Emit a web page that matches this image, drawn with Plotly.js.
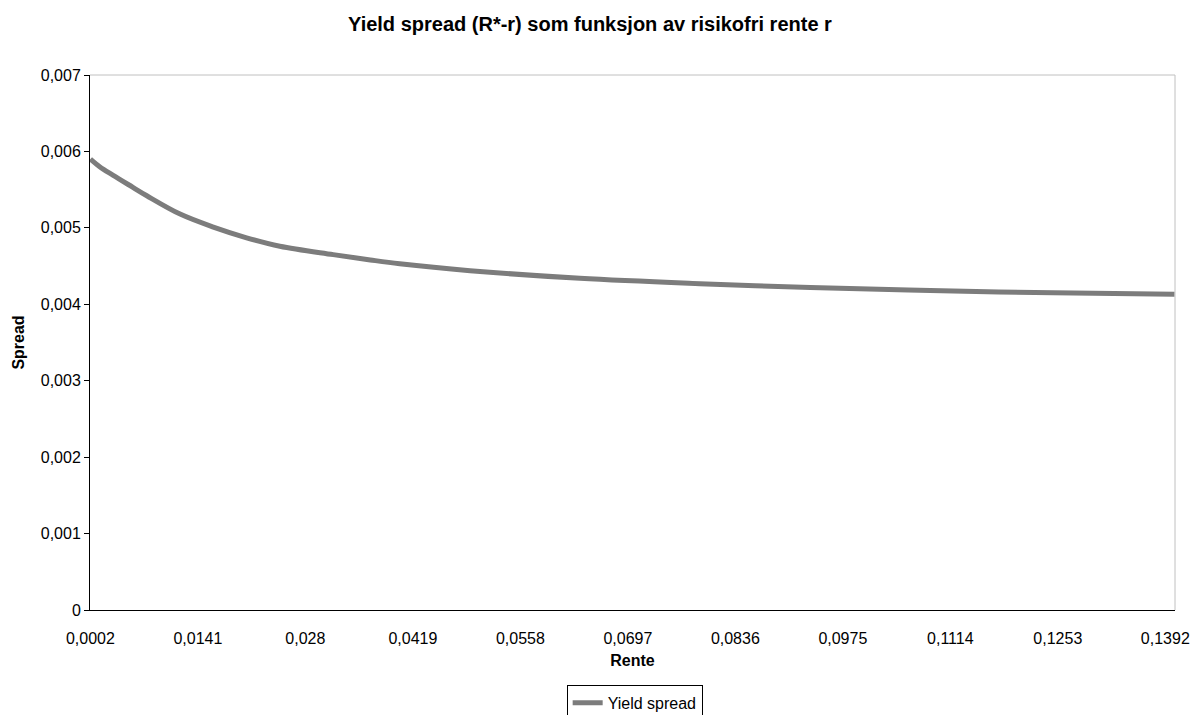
<!DOCTYPE html>
<html>
<head>
<meta charset="utf-8">
<script src="https://cdn.plot.ly/plotly-3.0.1.min.js"></script>
<style>
html,body{margin:0;padding:0;background:#fff;}
#chart{width:1204px;height:715px;}
</style>
</head>
<body>
<div id="chart"></div>
<script>
// Risk-free rate r (Rente) and yield spread (R*-r)
const rente = [0.0002, 0.0014, 0.0031, 0.0057, 0.0075, 0.0118, 0.0161, 0.0204, 0.0247, 0.0316, 0.0364, 0.0402, 0.0493, 0.0635, 0.0790, 0.0933, 0.1088, 0.1247, 0.1404];
const spread = [0.00590, 0.00580, 0.00569, 0.00553, 0.00542, 0.00518, 0.00501, 0.00487, 0.00476, 0.00465, 0.00458, 0.00453, 0.00444, 0.00434, 0.00427, 0.00422, 0.00418, 0.00415, 0.00413];

// Category-style tick labels on the x axis
const xTickVals = [0.0002, 0.0141, 0.0280, 0.0419, 0.0558, 0.0697, 0.0836, 0.0975, 0.1114, 0.1253, 0.1392];
const xTickText = ['0,0002', '0,0141', '0,028', '0,0419', '0,0558', '0,0697', '0,0836', '0,0975', '0,1114', '0,1253', '0,1392'];
const yTickVals = [0, 0.001, 0.002, 0.003, 0.004, 0.005, 0.006, 0.007];
const yTickText = ['0', '0,001', '0,002', '0,003', '0,004', '0,005', '0,006', '0,007'];

const font = 'Liberation Sans, Arial, sans-serif';

const trace = {
  x: rente,
  y: spread,
  type: 'scatter',
  mode: 'lines',
  name: 'Yield spread',
  line: {color: '#7c7c7c', width: 5, shape: 'spline', smoothing: 1}
};

const layout = {
  width: 1204,
  height: 715,
  paper_bgcolor: '#ffffff',
  plot_bgcolor: '#ffffff',
  margin: {l: 90, r: 29, t: 75, b: 105, autoexpand: false},
  separators: ', ',
  font: {family: font, size: 16, color: '#000'},
  title: {
    text: '<b>Yield spread (R*-r) som funksjon av risikofri rente r</b>',
    font: {family: font, size: 20, color: '#000'},
    xref: 'container', x: 0.49, xanchor: 'center',
    yref: 'container', y: 0.966, yanchor: 'middle'
  },
  xaxis: {
    range: [0.00015, 0.14045],
    tickvals: xTickVals,
    ticktext: xTickText,
    ticks: '',
    ticklabelstandoff: 14,
    showgrid: false,
    zeroline: false,
    showline: true,
    linecolor: '#000',
    linewidth: 1,
    tickfont: {family: font, size: 16, color: '#000'},
    title: {text: '<b>Rente</b>', font: {family: font, size: 16, color: '#000'}, standoff: 8}
  },
  yaxis: {
    range: [0, 0.007],
    tickvals: yTickVals,
    ticktext: yTickText,
    ticks: 'outside',
    ticklen: 5,
    tickcolor: '#000',
    showgrid: false,
    zeroline: false,
    showline: true,
    linecolor: '#000',
    linewidth: 1,
    tickfont: {family: font, size: 16, color: '#000'},
    title: {text: '<b>Spread</b>', font: {family: font, size: 16, color: '#000'}, standoff: 12}
  },
  shapes: [
    {type: 'line', xref: 'paper', yref: 'paper', x0: 0, x1: 1, y0: 1, y1: 1, line: {color: '#c0c0c0', width: 1}},
    {type: 'line', xref: 'paper', yref: 'paper', x0: 1, x1: 1, y0: 0, y1: 1, line: {color: '#c0c0c0', width: 1}}
  ],
  showlegend: true,
  legend: {
    orientation: 'h',
    x: 0.502, xanchor: 'center',
    yref: 'container', y: 0.042, yanchor: 'top',
    bordercolor: '#000',
    borderwidth: 1,
    bgcolor: '#fff',
    font: {family: font, size: 16, color: '#000'}
  }
};

Plotly.newPlot('chart', [trace], layout, {displayModeBar: false, staticPlot: true});
</script>
</body>
</html>
